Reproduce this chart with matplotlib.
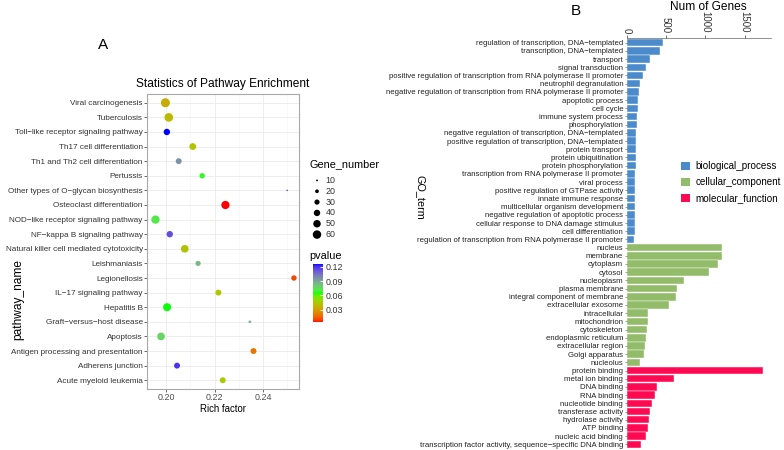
import numpy as np
import matplotlib
matplotlib.use('Agg')
import matplotlib.pyplot as plt
from matplotlib.colors import ListedColormap, Normalize
from matplotlib.patches import Patch

plt.rcParams['font.family'] = ['Liberation Sans', 'DejaVu Sans']

# panel A: KEGG pathway enrichment
pathways = ['Viral carcinogenesis', 'Tuberculosis', 'Toll-like receptor signaling pathway',
            'Th17 cell differentiation', 'Th1 and Th2 cell differentiation', 'Pertussis',
            'Other types of O-glycan biosynthesis', 'Osteoclast differentiation',
            'NOD-like receptor signaling pathway', 'NF-kappa B signaling pathway',
            'Natural killer cell mediated cytotoxicity', 'Leishmaniasis', 'Legionellosis',
            'IL-17 signaling pathway', 'Hepatitis B', 'Graft-versus-host disease', 'Apoptosis',
            'Antigen processing and presentation', 'Adherens junction', 'Acute myeloid leukemia']
rich_factor = [0.1997, 0.2011, 0.2003, 0.2110, 0.2052, 0.2149, 0.2500, 0.2245, 0.1956, 0.2015,
               0.2077, 0.2132, 0.2528, 0.2216, 0.2004, 0.2346, 0.1979, 0.2361, 0.2045, 0.2234]
gene_number = [66, 62, 40, 44, 36, 32, 9, 58, 58, 40, 52, 30, 32, 36, 56, 14, 52, 36, 36, 36]
pvalue = [0.0345, 0.0394, 0.126, 0.0437, 0.0955, 0.0675, 0.114, 0.004, 0.072, 0.114,
          0.043, 0.085, 0.010, 0.044, 0.065, 0.087, 0.077, 0.019, 0.120, 0.045]
size_breaks = [10, 20, 30, 40, 50, 60]
p_ticks = [0.03, 0.06, 0.09, 0.12]

# panel B: GO terms
bp_terms = ['regulation of transcription, DNA\u2212templated', 'transcription, DNA\u2212templated',
            'transport', 'signal transduction',
            'positive regulation of transcription from RNA polymerase II promoter',
            'neutrophil degranulation',
            'negative regulation of transcription from RNA polymerase II promoter',
            'apoptotic process', 'cell cycle', 'immune system process', 'phosphorylation',
            'negative regulation of transcription, DNA\u2212templated',
            'positive regulation of transcription, DNA\u2212templated',
            'protein transport', 'protein ubiquitination', 'protein phosphorylation',
            'transcription from RNA polymerase II promoter', 'viral process',
            'positive regulation of GTPase activity', 'innate immune response',
            'multicellular organism development', 'negative regulation of apoptotic process',
            'cellular response to DNA damage stimulus', 'cell differentiation',
            'regulation of transcription from RNA polymerase II promoter']
bp_counts = [466, 429, 292, 242, 203, 174, 153, 146, 144, 131, 127, 124, 123, 122, 121,
             112, 111, 110, 109, 108, 103, 102, 101, 100, 98]
cc_terms = ['nucleus', 'membrane', 'cytoplasm', 'cytosol', 'nucleoplasm', 'plasma membrane',
            'integral component of membrane', 'extracellular exosome', 'intracellular',
            'mitochondrion', 'cytoskeleton', 'endoplasmic reticulum', 'extracellular region',
            'Golgi apparatus', 'nucleolus']
cc_counts = [1217, 1213, 1166, 1043, 729, 645, 632, 539, 276, 275, 259, 242, 238, 221, 170]
mf_terms = ['protein binding', 'metal ion binding', 'DNA binding', 'RNA binding',
            'nucleotide binding', 'transferase activity', 'hydrolase activity', 'ATP binding',
            'nucleic acid binding', 'transcription factor activity, sequence\u2212specific DNA binding']
mf_counts = [1730, 606, 386, 365, 323, 297, 284, 271, 246, 187]
go_classes = ['biological_process', 'cellular_component', 'molecular_function']
class_colors = ['#4C8BCB', '#93BC6A', '#FF0A52']


# ggplot style gradient red -> green -> blue, interpolated in Lab space
M = np.array([[0.4124, 0.3576, 0.1805], [0.2126, 0.7152, 0.0722], [0.0193, 0.1192, 0.9505]])
WHITE = np.array([0.95047, 1.0, 1.08883])

def srgb_to_lab(c):
    c = np.asarray(c, float)
    lin = np.where(c <= 0.04045, c / 12.92, ((c + 0.055) / 1.055) ** 2.4)
    xyz = M @ lin / WHITE
    f = np.where(xyz > 0.008856, np.cbrt(xyz), 7.787 * xyz + 16 / 116)
    return np.array([116 * f[1] - 16, 500 * (f[0] - f[1]), 200 * (f[1] - f[2])])

def lab_to_srgb(lab):
    L, a, b = lab
    fy = (L + 16) / 116
    f = np.array([fy + a / 500, fy, fy - b / 200])
    xyz = np.where(f ** 3 > 0.008856, f ** 3, (f - 16 / 116) / 7.787) * WHITE
    lin = np.clip(np.linalg.solve(M, xyz), 0, None)
    c = np.where(lin <= 0.0031308, 12.92 * lin, 1.055 * lin ** (1 / 2.4) - 0.055)
    return np.clip(c, 0, 1)

stops = [srgb_to_lab(c) for c in [(1, 0, 0), (0, 1, 0), (0, 0, 1)]]
cols = []
for t in np.linspace(0, 1, 256):
    if t <= 0.5:
        lab = stops[0] + (stops[1] - stops[0]) * (t / 0.5)
    else:
        lab = stops[1] + (stops[2] - stops[1]) * ((t - 0.5) / 0.5)
    cols.append(lab_to_srgb(lab))
cmap = ListedColormap(cols)
norm = Normalize(vmin=min(pvalue), vmax=max(pvalue))

gmin, gmax = min(gene_number), max(gene_number)

def dot_size(v):
    # diameter in pixels grows with sqrt(value), converted to points^2
    d = 1.6 + (np.sqrt(v) - np.sqrt(gmin)) * (9.0 - 1.6) / (np.sqrt(gmax) - np.sqrt(gmin))
    return (d * 0.72) ** 2


fig = plt.figure(figsize=(7.84, 4.5), dpi=100)
W, H = 784, 450

# ---------- panel A ----------
ax = fig.add_axes([147 / W, 1 - 389 / H, 152 / W, 295 / H])
ypos = np.arange(len(pathways))
ax.set_axisbelow(True)
ax.scatter(rich_factor, ypos, s=[dot_size(g) for g in gene_number], c=pvalue,
           cmap=cmap, norm=norm, linewidths=0, zorder=3)
ax.set_xlim(0.1921, 0.2549)
ax.set_ylim(len(pathways) - 0.4, -0.6)
ax.set_yticks(ypos)
ax.set_yticklabels([p.replace('-', '\u2212') for p in pathways], fontsize=5.85, color='#333333')
ax.set_xticks([0.20, 0.22, 0.24])
ax.set_xticklabels(['0.20', '0.22', '0.24'], fontsize=6.4, color='#4D4D4D')
ax.set_xticks([0.21, 0.23, 0.25], minor=True)
ax.grid(which='major', color='#EBEBEB', lw=0.6)
ax.grid(which='minor', axis='x', color='#F3F3F3', lw=0.4)
ax.tick_params(which='major', length=2, width=0.5, color='#333333', pad=1)
ax.tick_params(which='minor', length=0)
for s in ax.spines.values():
    s.set_color('#A8A8A8')
    s.set_linewidth(0.8)
ax.set_xlabel('Rich factor', fontsize=6.9, labelpad=1)
ax.set_title('Statistics of Pathway Enrichment', fontsize=8.6, pad=5)
fig.text(18 / W, 1 - 299 / H, 'pathway_name', rotation=90, fontsize=8.6,
         ha='center', va='center')
fig.text(103 / W, 1 - 45 / H, 'A', fontsize=11, ha='center', va='center')

# size legend
fig.text(309 / W, 1 - 164 / H, 'Gene_number', fontsize=7.8, ha='left', va='center')
lax = fig.add_axes([310 / W, 1 - 240 / H, 14 / W, 65 / H])
ly = np.arange(len(size_breaks))
lax.scatter(np.zeros(len(size_breaks)), ly, s=[dot_size(v) for v in size_breaks],
            color='black', linewidths=0)
lax.set_xlim(-1, 1)
lax.set_ylim(len(size_breaks) - 0.5, -0.5)
lax.axis('off')
for i, v in enumerate(size_breaks):
    lax.text(1.25, i, str(v), fontsize=6.4, va='center', ha='left', color='#333333')

# colour bar
fig.text(309 / W, 1 - 256 / H, 'pvalue', fontsize=7.8, ha='left', va='center')
cax = fig.add_axes([313 / W, 1 - 322 / H, 10 / W, 58 / H])
cb = fig.colorbar(plt.cm.ScalarMappable(norm=norm, cmap=cmap), cax=cax, ticks=p_ticks)
cb.outline.set_visible(False)
cax.set_yticklabels(['%.2f' % t for t in p_ticks], fontsize=6.4, color='#333333')
cax.tick_params(length=2, width=0.6, color='white', direction='in', pad=2)

# ---------- panel B ----------
terms = bp_terms + cc_terms + mf_terms
counts = bp_counts + cc_counts + mf_counts
colors = ([class_colors[0]] * len(bp_terms) + [class_colors[1]] * len(cc_terms)
          + [class_colors[2]] * len(mf_terms))
bx = fig.add_axes([626.7 / W, 1 - 449.2 / H, 143.8 / W, 411.4 / H])
yb = np.arange(len(terms))
bx.barh(yb, counts, height=0.92, color=colors, edgecolor='white', linewidth=0.3)
bx.set_xlim(0, 1830)
bx.set_ylim(len(terms) - 0.4, -0.6)
bx.set_yticks(yb)
bx.set_yticklabels(terms, fontsize=5.6, color='#222222')
bx.xaxis.tick_top()
bx.set_xticks([0, 500, 1000, 1500])
bx.set_xticklabels(['0', '500', '1000', '1500'], rotation=-90, fontsize=7, color='#333333')
bx.tick_params(axis='x', length=2.5, width=0.5, color='#333333', pad=1)
bx.tick_params(axis='y', length=1.5, width=0.4, color='#555555', pad=1)
for k in ['left', 'right', 'bottom']:
    bx.spines[k].set_visible(False)
bx.spines['top'].set_color('#666666')
bx.spines['top'].set_linewidth(0.5)
fig.text(708 / W, 1 - 7 / H, 'Num of Genes', fontsize=8.6, ha='center', va='center')
fig.text(420 / W, 1 - 197 / H, 'GO_term', fontsize=7.8, rotation=-90, ha='center', va='center')
fig.text(576 / W, 1 - 11 / H, 'B', fontsize=11, ha='center', va='center')

handles = [Patch(facecolor=c, edgecolor='none') for c in class_colors]
fig.legend(handles, go_classes, loc='upper left', bbox_to_anchor=(681 / W, 1 - 161 / H),
           frameon=False, fontsize=7.1, handlelength=0.9, handleheight=0.9,
           handletextpad=0.55, labelspacing=0.62, borderaxespad=0, borderpad=0)

fig.savefig('out.png', dpi=100)
